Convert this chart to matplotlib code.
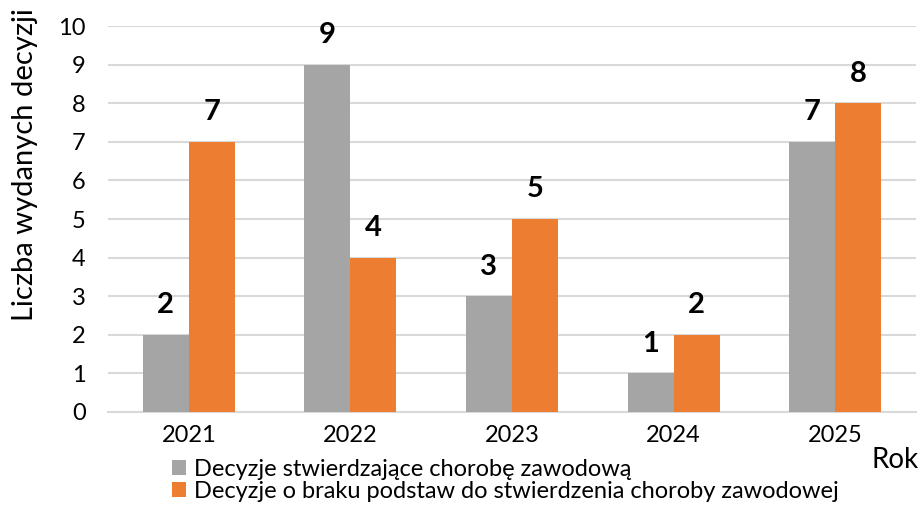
import matplotlib
matplotlib.use("Agg")
import matplotlib.pyplot as plt
import numpy as np
from matplotlib.patches import Patch

years = ["2021", "2022", "2023", "2024", "2025"]
stwierdzajace = [2, 9, 3, 1, 7]
brak_podstaw = [7, 4, 5, 2, 8]
series_names = ["Decyzje stwierdzające chorobę zawodową",
                "Decyzje o braku podstaw do stwierdzenia choroby zawodowej"]
y_ticks = [0, 1, 2, 3, 4, 5, 6, 7, 8, 9, 10]

GRAY = "#A5A5A5"
ORANGE = "#ED7D31"
FONT = ["Lato", "DejaVu Sans"]
plt.rcParams['font.family'] = FONT

fig = plt.figure(figsize=(9.24, 5.11), dpi=100)
ax = fig.add_axes([108/924, 1-412/511, (916-108)/924, (412-26)/511])

x = np.arange(len(years))
w = 0.285
b1 = ax.bar(x - w/2, stwierdzajace, width=w, color=GRAY, zorder=3)
b2 = ax.bar(x + w/2, brak_podstaw, width=w, color=ORANGE, zorder=3)

for bars, vals in ((b1, stwierdzajace), (b2, brak_podstaw)):
    for r, v in zip(bars, vals):
        ax.annotate(str(v), (r.get_x() + r.get_width()/2, v), xytext=(0, 12),
                    textcoords="offset points", ha="center", va="bottom",
                    fontsize=21, fontweight="bold", color="black", zorder=4)

ax.set_xlim(-0.5, len(years) - 0.5)
ax.set_ylim(0, 10)
ax.set_yticks(y_ticks)
ax.set_xticks(x)
ax.set_xticklabels(years)
ax.tick_params(axis="both", length=0, labelsize=17, colors="black")
ax.tick_params(axis="y", pad=16)
ax.tick_params(axis="x", pad=9)
ax.grid(axis="y", color="#D9D9D9", linewidth=1.5, zorder=0)
for s in ["top", "right", "left"]:
    ax.spines[s].set_visible(False)
ax.spines["bottom"].set_color("#D9D9D9")
ax.spines["bottom"].set_linewidth(1.5)

fig.text(25/924, 1-165/511, "Liczba wydanych decyzji", rotation=90, ha="center", va="center",
         fontsize=21, color="black")
fig.text(872/924, 1-460/511, "Rok", ha="left", va="center", fontsize=20, color="black")

handles = [Patch(facecolor=GRAY), Patch(facecolor=ORANGE)]
fig.legend(handles, series_names, loc="upper left", bbox_to_anchor=(172/924, 1-459/511),
           frameon=False, fontsize=17, handlelength=0.6, handleheight=0.6,
           handletextpad=0.35, labelspacing=0.05, borderpad=0, borderaxespad=0)

fig.savefig("out.png", dpi=100)
